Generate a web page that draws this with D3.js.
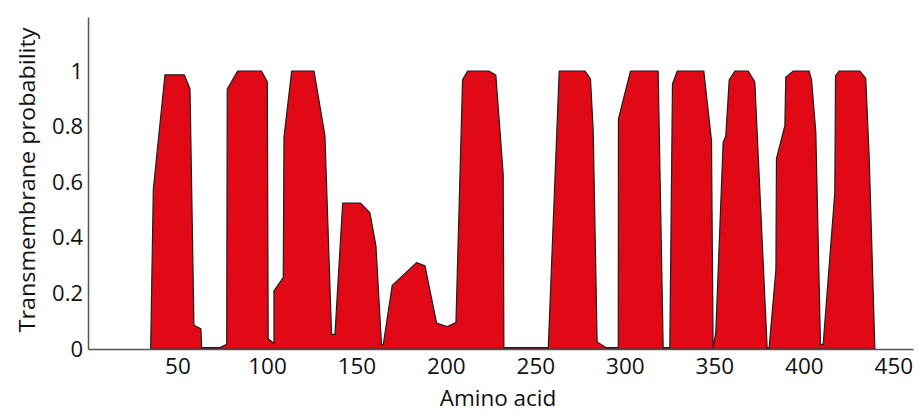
<!DOCTYPE html>
<html>
<head>
<meta charset="utf-8">
<script src="https://cdn.jsdelivr.net/npm/d3@7"></script>
<style>
  body { margin: 0; background: #fff; }
  svg { display: block; }
  .axis text { font-family: "Open Sans", sans-serif; fill: #111; }
  .axis path { stroke: #555; stroke-width: 1.5; }
</style>
</head>
<body>
<svg id="chart" width="919" height="415"></svg>
<script>
// Transmembrane probability profile

// amino acid positions (x) and the probability at each (y)
const aminoAcid = [
  35, 36.5, 43, 53.8, 57, 59.2, 63.1, 63.5, 73.7, 77.5,
  77.8, 83.6, 97, 100.2, 100.7, 103.9, 103.9, 109.1, 109.5, 113.8,
  126.3, 132.4, 136.1, 138, 142.3, 152.3, 157.5, 160.9, 164, 165,
  170, 183.6, 188.3, 194.8, 200.7, 205.6, 209.3, 212.1, 224.2, 227.9,
  232, 232.4, 257.2, 263.3, 277.7, 280.8, 282.3, 284.5, 289.4, 296.3,
  296.4, 303.1, 318.6, 321.4, 325.1, 326.6, 329.2, 344.1, 348.4, 349.3,
  350.8, 354.9, 356.4, 358.3, 361.5, 368.9, 372.6, 379.5, 380.6, 384.4,
  384.7, 389.4, 389.9, 394, 403, 404.3, 406.7, 409.3, 410.8, 417.3,
  417.7, 419.7, 431.3, 434.6, 436.5, 439.7
];
const probability = [
  0, 0.575, 0.987, 0.987, 0.936, 0.085, 0.073, 0.005, 0.005, 0.017,
  0.936, 1, 1, 0.962, 0.037, 0.02, 0.209, 0.257, 0.762, 1,
  1, 0.768, 0.053, 0.053, 0.525, 0.525, 0.491, 0.371, 0.017, 0.017,
  0.229, 0.311, 0.299, 0.093, 0.081, 0.095, 0.969, 1, 1, 0.986,
  0.63, 0.005, 0.005, 1, 1, 0.972, 0.786, 0.025, 0.005, 0.005,
  0.828, 1, 1, 0.005, 0.005, 0.954, 1, 1, 0.75, 0.005,
  0.059, 0.743, 0.768, 0.969, 1, 1, 0.962, 0.005, 0.005, 0.287,
  0.686, 0.804, 0.978, 1, 1, 0.969, 0.78, 0.017, 0.017, 0.563,
  0.984, 1, 1, 0.974, 0.695, 0
];

const xTicks = [50, 100, 150, 200, 250, 300, 350, 400, 450];
const yTicks = [0, 0.2, 0.4, 0.6, 0.8, 1];

const xTitle = "Amino acid";
const yTitle = "Transmembrane probability";

const svg = d3.select("#chart");

const x = d3.scaleLinear().domain([0, 461]).range([88, 913]);
const y = d3.scaleLinear().domain([0, 1.195]).range([349, 17]);

const points = aminoAcid.map((a, i) => ({ a: a, p: probability[i] }));

const area = d3.area()
    .x(d => x(d.a))
    .y0(y(0))
    .y1(d => y(d.p));

svg.append("path")
    .datum(points)
    .attr("d", area)
    .attr("fill", "#e10915")
    .attr("stroke", "#1e1e1e")
    .attr("stroke-width", 1.2)
    .attr("stroke-linejoin", "round");

// x axis
const xAxis = svg.append("g")
    .attr("class", "axis")
    .attr("transform", `translate(0,${y(0)})`)
    .call(d3.axisBottom(x).tickValues(xTicks).tickSize(0).tickPadding(9));
xAxis.selectAll("text").attr("font-size", 22.5);

// y axis
const yAxis = svg.append("g")
    .attr("class", "axis")
    .attr("transform", `translate(${x(0)},0)`)
    .call(d3.axisLeft(y).tickValues(yTicks).tickSize(0).tickPadding(5)
        .tickFormat(d3.format("~g")));
yAxis.selectAll("text").attr("font-size", 22);

// axis titles
svg.append("text")
    .attr("x", 498)
    .attr("y", 406)
    .attr("text-anchor", "middle")
    .attr("font-family", "Open Sans, sans-serif")
    .attr("font-size", 22.5)
    .attr("fill", "#111")
    .text(xTitle);

svg.append("text")
    .attr("transform", "translate(35,180) rotate(-90)")
    .attr("text-anchor", "middle")
    .attr("font-family", "Open Sans, sans-serif")
    .attr("font-size", 22.5)
    .attr("textLength", 305)
    .attr("lengthAdjust", "spacingAndGlyphs")
    .attr("fill", "#111")
    .text(yTitle);
</script>
</body>
</html>
